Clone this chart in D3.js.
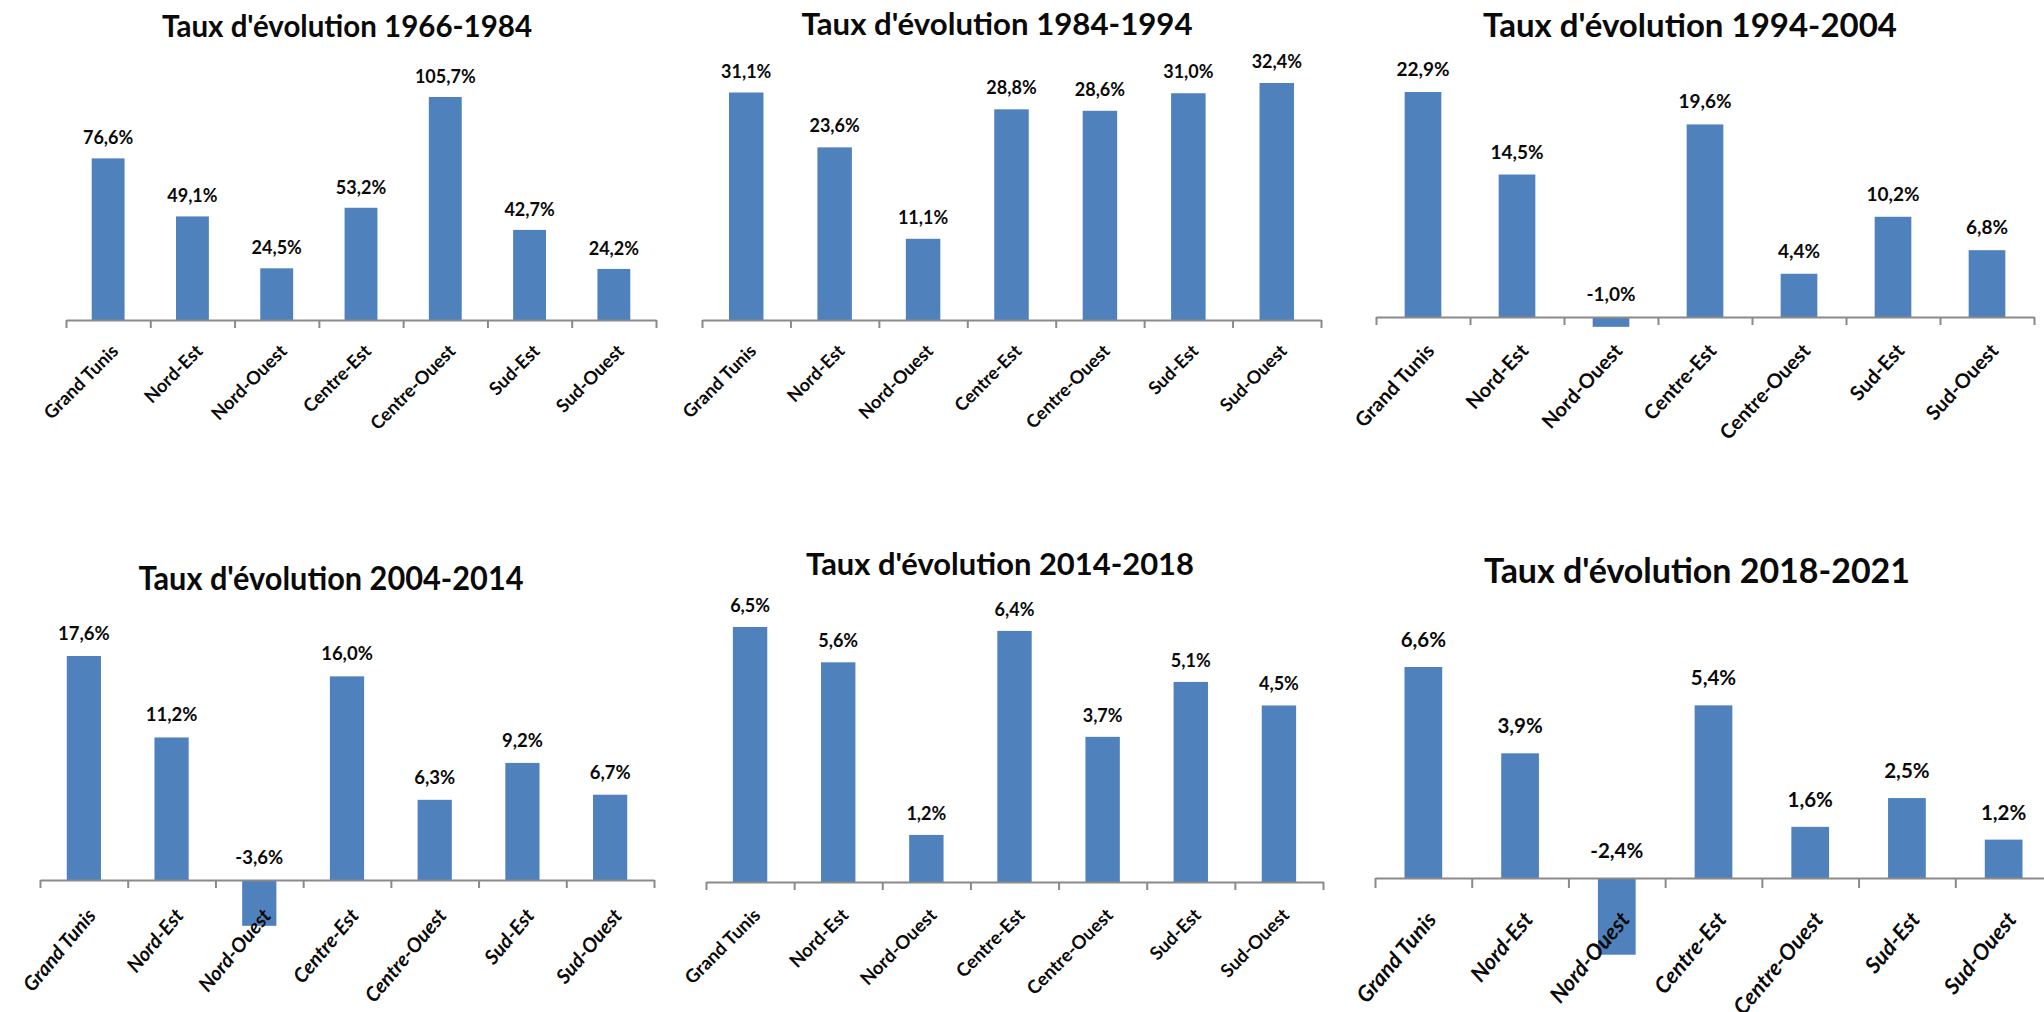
<!DOCTYPE html>
<html>
<head>
<meta charset="utf-8">
<script src="https://cdnjs.cloudflare.com/ajax/libs/d3/7.8.5/d3.min.js"></script>
<style>
html,body{margin:0;padding:0;background:#fff;overflow:hidden;}
svg{display:block;font-family:Lato,'Liberation Sans',sans-serif;}
</style>
</head>
<body>
<div id="chartWrapper"></div>
<script>
//data
const REGIONS = ['Grand Tunis','Nord-Est','Nord-Ouest','Centre-Est','Centre-Ouest','Sud-Est','Sud-Ouest'];
const PERIODS = ['1966-1984','1984-1994','1994-2004','2004-2014','2014-2018','2018-2021'];
const RATES_1966_1984 = [76.6,49.1,24.5,53.2,105.7,42.7,24.2];
const RATES_1984_1994 = [31.1,23.6,11.1,28.8,28.6,31.0,32.4];
const RATES_1994_2004 = [22.9,14.5,-1.0,19.6,4.4,10.2,6.8];
const RATES_2004_2014 = [17.6,11.2,-3.6,16.0,6.3,9.2,6.7];
const RATES_2014_2018 = [6.5,5.6,1.2,6.4,3.7,5.1,4.5];
const RATES_2018_2021 = [6.6,3.9,-2.4,5.4,1.6,2.5,1.2];
const SERIES = [RATES_1966_1984,RATES_1984_1994,RATES_1994_2004,RATES_2004_2014,RATES_2014_2018,RATES_2018_2021];

const CONSTANTS = {
    SVG_WRAPPER_ID:'#chartWrapper',
    WIDTH:2044,
    HEIGHT:1012,
    BAR_COLOR:'#4f81bd',
    AXIS_COLOR:'#8a8a8a',
    TEXT_COLOR:'#0a0a0a'
};

//layout of each small chart (pixels), same order as PERIODS
const PANELS = [
    {x0:66,  x1:656,  axisY:320, topY:97,  titleX:347,  titleY:37,  titleSize:30, titleWidth:370, valueSize:18, valueGap:14, labelSize:18.3, labelGap:23, angle:45, italic:false, tick:8},
    {x0:702, x1:1321, axisY:320, topY:83,  titleX:997,  titleY:35,  titleSize:31, titleWidth:391, valueSize:18, valueGap:15, labelSize:18,   labelGap:23, angle:45, italic:false, tick:8},
    {x0:1376,x1:2034, axisY:317, topY:92,  titleX:1690, titleY:37,  titleSize:33, titleWidth:414, valueSize:19, valueGap:16, labelSize:20,   labelGap:25, angle:47, italic:false, tick:8},
    {x0:40,  x1:654,  axisY:880, topY:656, titleX:331,  titleY:590, titleSize:32, titleWidth:385, valueSize:18.5, valueGap:16, labelSize:20, labelGap:27, angle:50, italic:true,  tick:8},
    {x0:706, x1:1323, axisY:882, topY:627, titleX:1000, titleY:575, titleSize:31, titleWidth:388, valueSize:18, valueGap:15, labelSize:18.5, labelGap:25, angle:45, italic:false, tick:8},
    {x0:1375,x1:2052, axisY:878, topY:667, titleX:1697, titleY:583, titleSize:35, titleWidth:426, valueSize:20.5, valueGap:20, labelSize:22, labelGap:32, angle:50, italic:true,  tick:10}
];

const frLocale = d3.formatLocale({decimal:',', thousands:'\u00a0', grouping:[3], currency:['','\u00a0€'], minus:'-'});
const formatRate = v => frLocale.format('.1f')(v) + '%';

function main(){
    let svg = d3.select(CONSTANTS.SVG_WRAPPER_ID)
        .append('svg')
        .attr('width',CONSTANTS.WIDTH)
        .attr('height',CONSTANTS.HEIGHT);

    PERIODS.forEach((period,i)=>{
        buildPanel(svg, period, SERIES[i], PANELS[i]);
    });
}

function buildPanel(svg, period, values, layout){
    let g = svg.append('g').attr('class','panel');
    let scales = buildScales(values, layout);

    //title
    g.append('text')
        .attr('x',layout.titleX)
        .attr('y',layout.titleY)
        .attr('text-anchor','middle')
        .attr('textLength',layout.titleWidth)
        .attr('lengthAdjust','spacingAndGlyphs')
        .style('font-size',layout.titleSize + 'px')
        .style('font-weight','bold')
        .style('fill',CONSTANTS.TEXT_COLOR)
        .text("Taux d'évolution " + period);

    buildBars(g, scales, values);
    buildAxis(g, scales, layout);
    buildValueLabels(g, scales, values, layout);
    buildCategoryLabels(g, scales, layout);
}

//returns the scales of one panel
function buildScales(values, layout){
    let x = d3.scaleBand()
        .domain(REGIONS)
        .range([layout.x0,layout.x1])
        .paddingInner(0.61)
        .paddingOuter(0.305);

    //boundaries between categories, used for the tick marks
    let xEdges = d3.scaleLinear()
        .domain([0,REGIONS.length])
        .range([layout.x0,layout.x1]);

    let y = d3.scaleLinear()
        .domain([0,d3.max(values)])
        .range([layout.axisY,layout.topY]);

    return {x:x, xEdges:xEdges, y:y};
}

function buildBars(g, scales, values){
    g.selectAll('rect.bar')
        .data(values)
        .enter()
        .append('rect')
        .attr('class','bar')
        .attr('x',(d,i)=> scales.x(REGIONS[i]))
        .attr('y',d=> Math.min(scales.y(d),scales.y(0)))
        .attr('width',scales.x.bandwidth())
        .attr('height',d=> Math.abs(scales.y(d) - scales.y(0)))
        .style('fill',CONSTANTS.BAR_COLOR);
}

function buildAxis(g, scales, layout){
    let axis = d3.axisBottom(scales.xEdges)
        .tickValues(d3.range(REGIONS.length + 1))
        .tickSizeInner(layout.tick)
        .tickSizeOuter(0)
        .tickFormat('');

    let ax = g.append('g')
        .attr('transform','translate(0,' + scales.y(0) + ')')
        .call(axis);

    ax.select('.domain').attr('stroke',CONSTANTS.AXIS_COLOR).attr('stroke-width',2);
    ax.selectAll('.tick line').attr('stroke',CONSTANTS.AXIS_COLOR).attr('stroke-width',2);
}

function buildValueLabels(g, scales, values, layout){
    g.selectAll('text.value')
        .data(values)
        .enter()
        .append('text')
        .attr('class','value')
        .attr('x',(d,i)=> scales.x(REGIONS[i]) + scales.x.bandwidth()/2)
        .attr('y',d=> Math.min(scales.y(d),scales.y(0)) - layout.valueGap)
        .attr('text-anchor','middle')
        .style('font-size',layout.valueSize + 'px')
        .style('font-weight','bold')
        .style('fill',CONSTANTS.TEXT_COLOR)
        .text(d=> formatRate(d));
}

//rotated region names under the axis
function buildCategoryLabels(g, scales, layout){
    g.selectAll('text.region')
        .data(REGIONS)
        .enter()
        .append('text')
        .attr('class','region')
        .attr('transform',d=> 'translate(' + (scales.x(d) + scales.x.bandwidth()/2 + 2) + ',' + (scales.y(0) + layout.labelGap) + ') rotate(-' + layout.angle + ')')
        .attr('dy','0.72em')
        .attr('text-anchor','end')
        .style('font-size',layout.labelSize + 'px')
        .style('font-weight','bold')
        .style('font-style',layout.italic ? 'italic' : 'normal')
        .style('fill',CONSTANTS.TEXT_COLOR)
        .text(d=>d);
}

main();
</script>
</body>
</html>
